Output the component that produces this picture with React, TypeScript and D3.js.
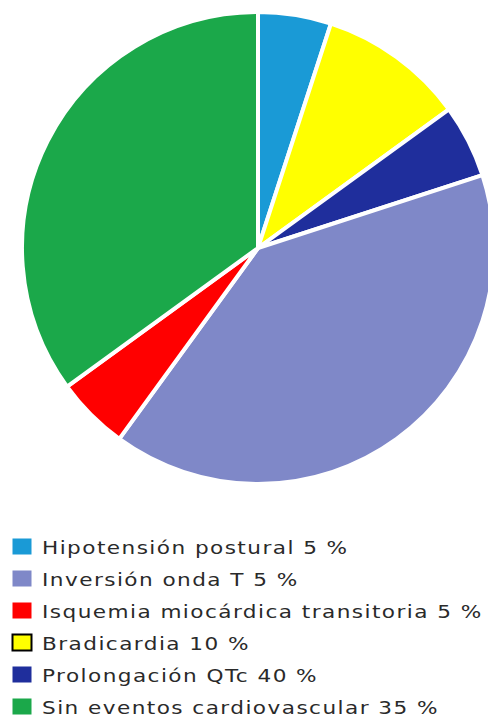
import React, { useEffect, useRef } from "react";
import * as d3 from "d3";

// slice order as drawn, clockwise from 12 o'clock
const sliceValues = [5, 10, 5, 40, 5, 35];
const sliceColors = ["#1a9ad6", "#ffff00", "#1f2e9c", "#7f88c8", "#ff0000", "#1ba84a"];

// legend rows, as printed under the pie
const legendLabels = [
  "Hipotensión postural 5 %",
  "Inversión onda T 5 %",
  "Isquemia miocárdica transitoria 5 %",
  "Bradicardia 10 %",
  "Prolongación QTc 40 %",
  "Sin eventos cardiovascular 35 %",
];
const legendColors = ["#1a9ad6", "#7f88c8", "#ff0000", "#ffff00", "#1f2e9c", "#1ba84a"];

export default function App() {
  const ref = useRef<SVGSVGElement>(null);

  useEffect(() => {
    var svg = d3.select(ref.current);
    svg.selectAll("*").remove();

    var cx = 258,
      cy = 248,
      r = 236;

    var pie = d3
      .pie<number>()
      .value((d) => d)
      .sort(null);
    var arc = d3.arc<d3.PieArcDatum<number>>().innerRadius(0).outerRadius(r);

    svg
      .append("g")
      .attr("transform", `translate(${cx},${cy})`)
      .selectAll("path")
      .data(pie(sliceValues))
      .join("path")
      .attr("d", arc)
      .attr("fill", (d, i) => sliceColors[i])
      .attr("stroke", "#fff")
      .attr("stroke-width", 4)
      .attr("stroke-linejoin", "round");

    var y = d3
      .scaleBand()
      .domain(legendLabels)
      .range([530, 722])
      .paddingInner(0);

    var rows = svg
      .append("g")
      .selectAll("g")
      .data(legendLabels)
      .join("g")
      .attr("transform", (d) => `translate(0,${y(d)})`);

    rows
      .append("rect")
      .attr("x", 12.5)
      .attr("y", 8.5)
      .attr("width", 19)
      .attr("height", 16)
      .attr("fill", (d, i) => legendColors[i])
      .attr("stroke", (d, i) => (legendColors[i] === "#ffff00" ? "#000" : "none"))
      .attr("stroke-width", 2);

    // reference glyphs are wide (Verdana-like), so stretch a little
    rows
      .append("text")
      .attr("transform", "translate(42,24) scale(1.2,1)")
      .attr("font-family", "DejaVu Sans, Verdana, sans-serif")
      .attr("font-size", 18)
      .attr("letter-spacing", 1.2)
      .attr("fill", "#2a2a2a")
      .text((d) => d);
  }, []);

  return (
    <svg
      ref={ref}
      width={488}
      height={722}
      style={{ position: "absolute", left: 0, top: 0, background: "#fff" }}
    />
  );
}
